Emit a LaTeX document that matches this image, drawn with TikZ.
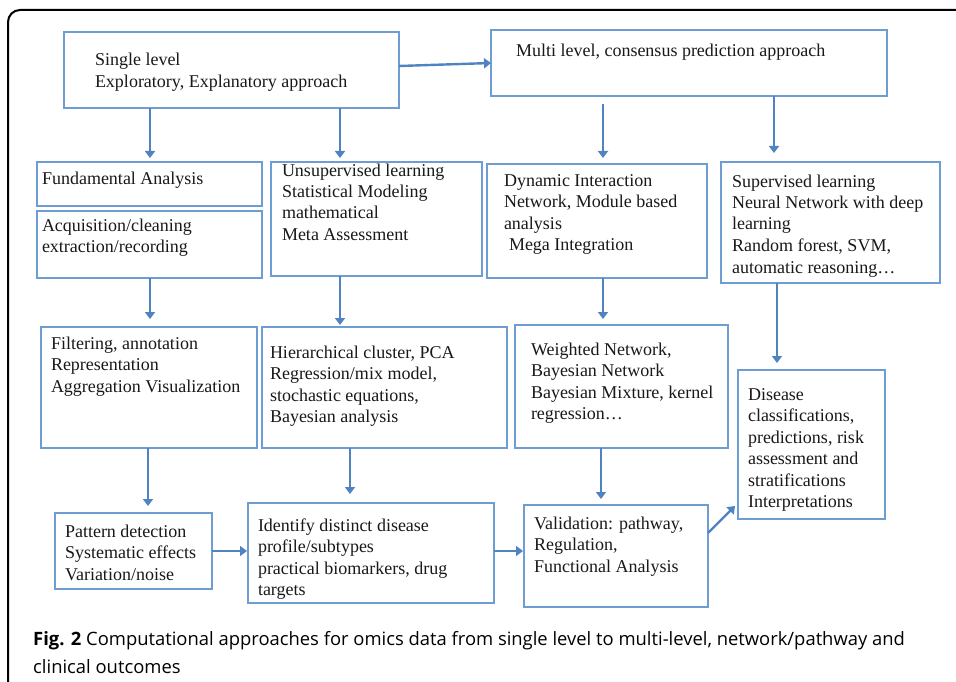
\documentclass[tikz,border=0pt]{standalone}
\usepackage{fontspec}
\setmainfont{Liberation Serif}
\newfontfamily\capfont{Open Sans}
\usetikzlibrary{arrows.meta}
\definecolor{boxblue}{HTML}{6E9DD3}
\definecolor{arrblue}{HTML}{4F83C2}
\newcommand\bx[1]{\begin{tabular}[t]{@{}l@{}}#1\end{tabular}}
\tikzset{
  box/.style={draw=boxblue, line width=1.4pt, rectangle, inner sep=0pt, outer sep=0pt, anchor=north west},
  txt/.style={anchor=base west, inner sep=0pt, outer sep=0pt, text=black!90, font=\fontsize{18}{21.5}\selectfont},
  arr/.style={draw=arrblue, line width=2.4pt, -{Triangle[width=10pt,length=7pt]}},
}
\begin{document}
\begin{tikzpicture}[x=1pt,y=-1pt]
\useasboundingbox (0,0) rectangle (956,682);
\fill[white] (0,0) rectangle (956,682);
% outer frame
\draw[line width=2pt, rounded corners=12pt] (8,700) -- (8,10) -- (970,10);
% boxes
\node[box, minimum width=335pt, minimum height=76pt] (A) at (64,32) {};
\node[box, minimum width=396pt, minimum height=66pt] (B) at (491,30) {};
\node[box, minimum width=225pt, minimum height=44pt] (FA) at (37,162) {};
\node[box, minimum width=225pt, minimum height=67pt] (AC) at (37,211) {};
\node[box, minimum width=211pt, minimum height=114pt] (UL) at (271,162) {};
\node[box, minimum width=220pt, minimum height=114pt] (DI) at (487,164) {};
\node[box, minimum width=219pt, minimum height=121pt] (SL) at (721,162) {};
\node[box, minimum width=216pt, minimum height=121pt] (FI) at (41,327) {};
\node[box, minimum width=245pt, minimum height=121pt] (HC) at (262,327) {};
\node[box, minimum width=213pt, minimum height=123pt] (WN) at (515,325) {};
\node[box, minimum width=147pt, minimum height=149pt] (DC) at (738,370) {};
\node[box, minimum width=157pt, minimum height=76pt] (PD) at (55,513) {};
\node[box, minimum width=246pt, minimum height=100pt] (ID) at (248,503) {};
\node[box, minimum width=184pt, minimum height=102pt] (VA) at (524,505) {};
% texts
\node[txt] (At) at (95,66) {\bx{Single level\\Exploratory, Explanatory approach}};
\node[txt] (Bt) at (516,57) {\bx{Multi level, consensus prediction approach}};
\node[txt] (FAt) at (42,185) {\bx{Fundamental Analysis}};
\node[txt] (ACt) at (42,231) {\bx{Acquisition/cleaning\\extraction/recording}};
\node[txt] (ULt) at (282,176) {\bx{Unsupervised learning\\Statistical Modeling\\mathematical\\Meta Assessment}};
\node[txt] (DIt) at (504,186) {\bx{Dynamic Interaction\\Network, Module based\\analysis\\\hspace{5pt}Mega Integration}};
\node[txt] (SLt) at (732,187) {\bx{Supervised learning\\Neural Network with deep\\learning\\Random forest, SVM,\\automatic reasoning\ldots}};
\node[txt] (FIt) at (51,349) {\bx{Filtering, annotation\\Representation\\Aggregation Visualization}};
\node[txt] (HCt) at (270,358) {\bx{Hierarchical cluster, PCA\\Regression/mix model,\\stochastic equations,\\Bayesian analysis}};
\node[txt] (WNt) at (531,355) {\bx{Weighted Network,\\Bayesian Network\\Bayesian Mixture, kernel\\regression\ldots}};
\node[txt] (DCt) at (748,400) {\bx{Disease\\classifications,\\predictions, risk\\assessment and\\stratifications\\Interpretations}};
\node[txt] (PDt) at (65,537) {\bx{Pattern detection\\Systematic effects\\Variation/noise}};
\node[txt] (IDt) at (258,531) {\bx{Identify distinct disease\\profile/subtypes\\practical biomarkers, drug\\targets}};
\node[txt] (VAt) at (534,529) {\bx{Validation: pathway,\\Regulation,\\Functional Analysis}};
% connectors
\draw[arr] ([yshift=4pt]A.east) -- (B.west);
\draw[arr, shorten >=4pt] ([xshift=86pt]A.south west) -- ([xshift=86pt]A.south west |- FA.north);
\draw[arr, shorten >=4pt] ([xshift=276pt]A.south west) -- ([xshift=276pt]A.south west |- UL.north);
\draw[arr, shorten <=8pt, shorten >=6pt] ([xshift=112pt]B.south west) -- ([xshift=112pt]B.south west |- DI.north);
\draw[arr, shorten >=9pt] ([xshift=283pt]B.south west) -- ([xshift=283pt]B.south west |- SL.north);
\draw[arr, shorten >=8pt] ([xshift=113pt]AC.south west) -- ([xshift=113pt]AC.south west |- FI.north);
\draw[arr, shorten >=2pt] ([xshift=69pt]UL.south west) -- ([xshift=69pt]UL.south west |- HC.north);
\draw[arr, shorten >=6pt] ([xshift=116pt]DI.south west) -- ([xshift=116pt]DI.south west |- WN.north);
\draw[arr, shorten >=7pt] ([xshift=56pt]SL.south west) -- ([xshift=56pt]SL.south west |- DC.north);
\draw[arr, shorten >=7pt] ([xshift=107pt]FI.south west) -- ([xshift=107pt]FI.south west |- PD.north);
\draw[arr, shorten >=9pt] ([xshift=88pt]HC.south west) -- ([xshift=88pt]HC.south west |- ID.north);
\draw[arr, shorten >=6pt] ([xshift=86pt]WN.south west) -- ([xshift=86pt]WN.south west |- VA.north);
\draw[arr, shorten >=1pt] (PD.east) -- (PD.east -| ID.west);
\draw[arr, shorten >=1pt] ([yshift=2pt]ID.east) -- ([yshift=2pt]ID.east -| VA.west);
\draw[arr] ([yshift=-28pt]VA.north east) -- ([xshift=-3pt,yshift=13pt]DC.south west);
% caption
\node[anchor=base west, inner sep=0pt, font=\capfont\fontsize{18.4}{28.5}\selectfont] (cap) at (33,645)
  {\bx{\textbf{Fig. 2} Computational approaches for omics data from single level to multi-level, network/pathway and\\clinical outcomes}};
\end{tikzpicture}
\end{document}
